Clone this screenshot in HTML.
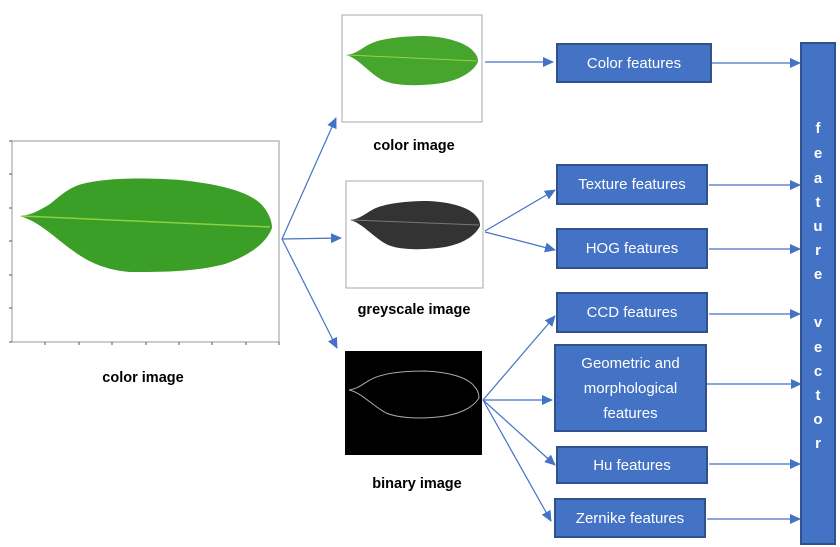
<!DOCTYPE html>
<html><head><meta charset="utf-8"><style>
body{margin:0;width:840px;height:547px;background:#fff;overflow:hidden;position:relative;font-family:"Liberation Sans",sans-serif}
.box{position:absolute;background:#4472c4;border:2px solid #2f528f;box-sizing:border-box;color:#fff;font-size:15px;display:flex;align-items:center;justify-content:center;text-align:center;line-height:25px}
.lbl{position:absolute;font-weight:bold;font-size:14.5px;color:#000;transform:translateX(-50%);white-space:nowrap}
.vl{position:absolute;left:818px;transform:translateX(-50%);color:#fff;font-weight:bold;font-size:15px}
</style></head><body>
<svg width="840" height="547" style="position:absolute;left:0;top:0">
<defs>
<marker id="a" markerWidth="11" markerHeight="10" refX="10" refY="5" orient="auto" markerUnits="userSpaceOnUse"><path d="M0,0 L11,5 L0,10z" fill="#4472c4"/></marker>
</defs>
<!-- big image -->
<rect x="12" y="141" width="267" height="201" fill="#fff" stroke="#999"/>
<g stroke="#555"><line x1="9" y1="141" x2="12" y2="141"/><line x1="9" y1="174" x2="12" y2="174"/><line x1="9" y1="208" x2="12" y2="208"/><line x1="9" y1="241" x2="12" y2="241"/><line x1="9" y1="275" x2="12" y2="275"/><line x1="9" y1="308" x2="12" y2="308"/><line x1="9" y1="342" x2="12" y2="342"/>
<line x1="45" y1="342" x2="45" y2="345"/><line x1="79" y1="342" x2="79" y2="345"/><line x1="112" y1="342" x2="112" y2="345"/><line x1="146" y1="342" x2="146" y2="345"/><line x1="179" y1="342" x2="179" y2="345"/><line x1="212" y1="342" x2="212" y2="345"/><line x1="246" y1="342" x2="246" y2="345"/><line x1="279" y1="342" x2="279" y2="345"/></g>
<path d="M20,216 C32,215 40,210 50,204 C60,196 68,188 82,184 C110,177 150,178 180,180 C220,184 250,192 262,205 C268,212 272,220 272,228 C266,244 248,256 225,264 C195,272 160,272 130,272 C105,270 88,262 72,250 C55,238 40,222 20,216z" fill="#3a9e27"/>
<line x1="22" y1="216" x2="270" y2="227" stroke="#8fd040" stroke-width="1.5"/>
<!-- small color -->
<rect x="342" y="15" width="140" height="107" fill="#fff" stroke="#aaa"/>
<path d="M346,55 C356,54 362,48 368,45 C380,38 405,36 425,36 C450,37 468,44 474,52 C478,56 478,60 478,62 C472,74 455,82 435,84 C415,86 395,86 382,80 C368,72 358,58 346,55z" fill="#45a52c"/>
<line x1="348" y1="55" x2="477" y2="61" stroke="#9ad04a"/>
<!-- grey -->
<rect x="346" y="181" width="137" height="107" fill="#fff" stroke="#aaa"/>
<path d="M350,220 C360,219 366,213 372,210 C384,203 408,201 428,201 C452,202 470,208 476,216 C480,220 480,224 480,226 C474,238 458,246 438,248 C418,250 398,250 386,244 C372,236 362,223 350,220z" fill="#333"/>
<line x1="352" y1="220" x2="479" y2="225" stroke="#777"/>
<!-- binary -->
<rect x="345" y="351" width="137" height="104" fill="#000"/>
<path d="M349,390 C358,389 364,383 370,380 C382,373 405,371 425,371 C450,372 468,378 474,386 C478,390 479,394 479,398 C473,408 458,415 438,417 C418,419 398,418 386,413 C372,405 360,392 349,390z" fill="none" stroke="#aaa" stroke-width="1"/>
<g stroke="#4472c4" stroke-width="1.2" fill="none" marker-end="url(#a)">
<line x1="282" y1="239" x2="336" y2="118"/>
<line x1="282" y1="239" x2="341" y2="238"/>
<line x1="282" y1="239" x2="337" y2="348"/>
<line x1="485" y1="62" x2="553" y2="62"/>
<line x1="485" y1="231" x2="555" y2="190"/>
<line x1="485" y1="232" x2="555" y2="250"/>
<line x1="483" y1="400" x2="555" y2="316"/>
<line x1="483" y1="400" x2="552" y2="400"/>
<line x1="483" y1="400" x2="555" y2="465"/>
<line x1="483" y1="400" x2="551" y2="521"/>
<line x1="711" y1="63" x2="800" y2="63"/>
<line x1="709" y1="185" x2="800" y2="185"/>
<line x1="709" y1="249" x2="800" y2="249"/>
<line x1="709" y1="314" x2="800" y2="314"/>
<line x1="707" y1="384" x2="801" y2="384"/>
<line x1="709" y1="464" x2="800" y2="464"/>
<line x1="707" y1="519" x2="800" y2="519"/>
</g>
</svg>
<div class="lbl" style="left:143px;top:370px">color image</div>
<div class="lbl" style="left:414px;top:138px">color image</div>
<div class="lbl" style="left:414px;top:302px">greyscale image</div>
<div class="lbl" style="left:417px;top:476px">binary image</div>
<div class="box" style="left:556px;top:43px;width:156px;height:40px">Color features</div>
<div class="box" style="left:556px;top:164px;width:152px;height:41px">Texture features</div>
<div class="box" style="left:556px;top:228px;width:152px;height:41px">HOG features</div>
<div class="box" style="left:556px;top:292px;width:152px;height:41px">CCD features</div>
<div class="box" style="left:554px;top:344px;width:153px;height:88px">Geometric and<br>morphological<br>features</div>
<div class="box" style="left:556px;top:446px;width:152px;height:38px">Hu features</div>
<div class="box" style="left:554px;top:498px;width:152px;height:40px">Zernike features</div>
<div class="box" style="left:800px;top:42px;width:36px;height:503px"></div>
<div class="vl" style="top:120px">f</div><div class="vl" style="top:145px">e</div><div class="vl" style="top:170px">a</div><div class="vl" style="top:194px">t</div><div class="vl" style="top:218px">u</div><div class="vl" style="top:242px">r</div><div class="vl" style="top:266px">e</div>
<div class="vl" style="top:314px">v</div><div class="vl" style="top:339px">e</div><div class="vl" style="top:363px">c</div><div class="vl" style="top:387px">t</div><div class="vl" style="top:411px">o</div><div class="vl" style="top:435px">r</div>
</body></html>
